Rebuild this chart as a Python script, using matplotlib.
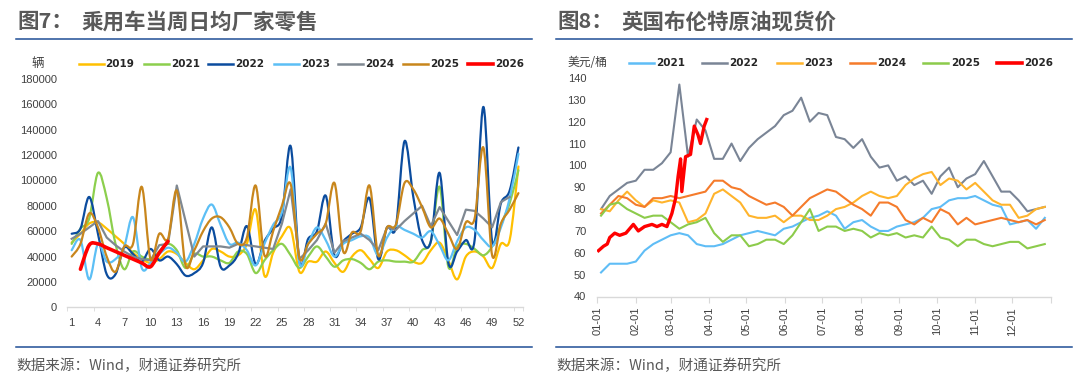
import numpy as np
import matplotlib
matplotlib.use("Agg")
import matplotlib.pyplot as plt
from matplotlib.path import Path
from matplotlib.patches import PathPatch
from matplotlib.lines import Line2D

plt.rcParams["font.family"] = ["Liberation Sans", "DejaVu Sans"]
CJK = ["Noto Sans CJK SC", "DejaVu Sans"]

# ---- left chart: weekly average daily retail sales (vehicles) ----
weeks = list(range(1, 53))
sales_2019 = [51000, 58000, 66000, 67000, 62000, 56000, 50000, 43000, 38000, 35000,
              38000, 44000, 42000, 35000, 30000, 37000, 46000, 44000, 40000, 41000,
              50000, 77000, 25000, 43000, 56000, 62000, 28000, 36000, 36000, 44000,
              35000, 28000, 40000, 45000, 38000, 31000, 44000, 45000, 41000, 36000,
              35000, 45000, 51000, 37000, 22000, 40000, 44000, 40000, 31000, 50000,
              53000, 111000]
sales_2021 = [50000, 62000, 70000, 106000, 86000, 50000, 30000, 44000, 40000, 38000,
              44000, 50000, 45000, 31000, 42000, 40000, 40000, 37000, 35000, 44000,
              42000, 27000, 37000, 45000, 50000, 41000, 31000, 40000, 48000, 40000,
              32000, 37000, 38000, 35000, 30000, 36000, 37000, 36000, 36000, 36000,
              45000, 52000, 95000, 32000, 48000, 50000, 46000, 41000, 48000, 65000,
              82000, 108000]
sales_2022 = [58000, 62000, 87000, 58000, 26000, 26000, 47000, 42000, 36000, 46000,
              37000, 40000, 34000, 25000, 27000, 35000, 63000, 32000, 33000, 42000,
              64000, 34000, 52000, 62000, 72000, 127000, 36000, 54000, 60000, 88000,
              41000, 52000, 58000, 63000, 86000, 38000, 63000, 63000, 131000, 87000,
              53000, 52000, 106000, 35000, 44000, 53000, 53000, 158000, 52000, 82000,
              92000, 126000]
sales_2023 = [45000, 53000, 22000, 50000, 36000, 38000, 48000, 71000, 31000, 35000,
              42000, 47000, 43000, 36000, 50000, 70000, 81000, 65000, 50000, 51000,
              45000, 33000, 50000, 65000, 75000, 110000, 35000, 50000, 63000, 53000,
              40000, 50000, 53000, 56000, 55000, 41000, 55000, 64000, 61000, 58000,
              55000, 60000, 49000, 37000, 52000, 63000, 61000, 53000, 48000, 63000,
              86000, 121000]
sales_2024 = [54000, 58000, 63000, 68000, 55000, 49000, 44000, 40000, 38000, 37000,
              49000, 50000, 96000, 68000, 40000, 48000, 48000, 48000, 47000, 50000,
              49000, 48000, 47000, 46000, 66000, 93000, 38000, 45000, 53000, 66000,
              43000, 52000, 55000, 58000, 53000, 45000, 63000, 61000, 68000, 74000,
              80000, 64000, 79000, 68000, 57000, 77000, 76000, 70000, 63000, 83000,
              87000, None]
sales_2025 = [40000, 50000, 74000, 63000, 40000, 28000, 48000, 50000, 95000, 38000,
              58000, 54000, 92000, 33000, 45000, 60000, 70000, 71000, 63000, 50000,
              55000, 96000, 41000, 60000, 80000, 97000, 39000, 50000, 58000, 66000,
              98000, 44000, 59000, 60000, 96000, 41000, 63000, 65000, 98000, 93000,
              79000, 63000, 70000, 58000, 46000, 67000, 70000, 126000, 41000, 66000,
              77000, 90000]
sales_2026 = [None, 30000, 49000, 50000, 47000, 44000, 41000, 38000, 35000, 32000,
              43000, 52000] + [None] * 40

sales_years = ["2019", "2021", "2022", "2023", "2024", "2025", "2026"]
sales_colors = ["#FFC000", "#8CCF4D", "#0B4C9E", "#5CBFF5", "#7F8891", "#C8861C", "#FF0000"]

# ---- right chart: Brent spot price (USD/bbl), sampled weekly by day of year ----
oil_days = np.arange(3, 361, 7)
oil_2021 = [51, 55, 55, 55, 56, 61, 64, 66, 68, 69, 68, 64, 63, 63, 64, 66, 68, 69, 70, 69,
            68, 71, 72, 74, 76, 77, 79, 77, 71, 74, 75, 72, 70, 70, 72, 73, 74, 76, 80, 81,
            84, 85, 85, 86, 84, 82, 81, 73, 74, 75, 71, 76]
oil_2022 = [80, 86, 89, 92, 93, 98, 98, 101, 106, 137, 104, 121, 116, 103, 103, 110, 102, 108,
            112, 115, 118, 123, 125, 131, 120, 124, 123, 113, 112, 108, 112, 104, 99, 100, 93,
            95, 91, 93, 87, 95, 99, 90, 94, 96, 102, 95, 88, 88, 84, 79, 80, 81]
oil_2023 = [80, 79, 84, 88, 84, 81, 84, 83, 84, 83, 74, 75, 78, 87, 89, 86, 83, 77, 76, 76,
            77, 74, 77, 77, 75, 75, 77, 80, 81, 83, 86, 88, 86, 85, 86, 91, 94, 96, 97, 91,
            94, 93, 89, 92, 88, 84, 82, 82, 76, 77, 80, 81]
oil_2024 = [78, 82, 86, 85, 82, 81, 85, 85, 86, 85, 86, 87, 88, 93, 93, 90, 89, 86, 84, 82,
            83, 81, 77, 81, 85, 87, 89, 88, 85, 82, 80, 77, 83, 83, 81, 75, 73, 76, 74, 80,
            78, 73, 76, 73, 74, 75, 76, 75, 74, 75, 73, 75]
oil_2025 = [77, 82, 83, 80, 78, 76, 77, 77, 74, 71, 73, 74, 76, 69, 65, 68, 68, 63, 64, 66,
            66, 64, 68, 74, 80, 70, 72, 72, 70, 71, 70, 67, 69, 68, 69, 67, 68, 67, 72, 67,
            66, 63, 66, 66, 64, 63, 64, 65, 65, 62, 63, 64]
oil_2026_days = [1, 5, 8, 10, 14, 18, 23, 29, 33, 38, 44, 48, 52, 56, 60, 63, 65, 67, 68,
                 71, 75, 78, 81, 83, 86, 88]
oil_2026 = [61, 63, 64, 67, 69, 68, 69, 73, 70, 72, 73, 72, 73, 72, 78, 85, 95, 103, 88,
            104, 105, 118, 114, 110, 118, 121]

oil_years = ["2021", "2022", "2023", "2024", "2025", "2026"]
oil_colors = ["#5FBDF6", "#7A8596", "#FFB42C", "#F57B2B", "#8CCB4B", "#FF0000"]
month_starts = [0, 31, 59, 90, 120, 151, 181, 212, 243, 273, 304, 334]
month_labels = ["01-01", "02-01", "03-01", "04-01", "05-01", "06-01",
                "07-01", "08-01", "09-01", "10-01", "11-01", "12-01"]

W, H = 1080, 387


def fx(px):
    return px / W


def fy(py):
    return 1 - py / H


def smooth_line(ax, x, y, color, lw, z):
    # Excel-style smoothed line: Catmull-Rom segments as cubic Beziers
    p = np.array([(a, b) for a, b in zip(x, y) if b is not None], float)
    n = len(p)
    verts = [p[0]]
    codes = [Path.MOVETO]
    for i in range(n - 1):
        p0, p1, p2, p3 = p[max(i - 1, 0)], p[i], p[i + 1], p[min(i + 2, n - 1)]
        verts += [p1 + (p2 - p0) / 6, p2 - (p3 - p1) / 6, p2]
        codes += [Path.CURVE4] * 3
    ax.add_patch(PathPatch(Path(verts, codes), fill=False, ec=color, lw=lw,
                           zorder=z, capstyle="round", joinstyle="round"))


fig = plt.figure(figsize=(10.8, 3.87), dpi=100)

# ---------------- left panel ----------------
ax1 = fig.add_axes([fx(67.3), fy(307.3), fx(522.8) - fx(67.3), fy(79) - fy(307.3)])
series = [sales_2019, sales_2021, sales_2022, sales_2023, sales_2024, sales_2025, sales_2026]
for i, (vals, col) in enumerate(zip(series, sales_colors)):
    lw = 2.6 if sales_years[i] == "2026" else 1.6
    if sales_years[i] == "2024":
        xs = [w for w, v in zip(weeks, vals) if v is not None]
        ys = [v for v in vals if v is not None]
        ax1.plot(xs, ys, color=col, lw=lw, zorder=2 + i, solid_joinstyle="round")
    else:
        smooth_line(ax1, weeks, vals, col, lw, 2 + i)
ax1.set_xlim(0.5, 52.5)
ax1.set_ylim(0, 180000)
ax1.set_yticks(range(0, 180001, 20000))
ax1.set_yticklabels([str(v) for v in range(0, 180001, 20000)])
ax1.set_xticks(weeks[::3])
ax1.set_xticklabels([str(w) for w in weeks[::3]])
ax1.set_xticks(list(np.arange(0.5, 52, 3)) + [52.5], minor=True)
ax1.tick_params(axis="x", which="major", length=0, pad=8, labelsize=8, labelcolor="#404040")
ax1.tick_params(axis="x", which="minor", length=3, color="#D9D9D9", direction="out")
ax1.tick_params(axis="y", length=0, pad=7.5, labelsize=8, labelcolor="#404040")

# ---------------- right panel ----------------
ax2 = fig.add_axes([fx(597.3), fy(296.5), fx(1051) - fx(597.3), fy(78) - fy(296.5)])
oil_series = [oil_2021, oil_2022, oil_2023, oil_2024, oil_2025]
for i, (vals, col) in enumerate(zip(oil_series, oil_colors[:5])):
    ax2.plot(oil_days, vals, color=col, lw=1.5, zorder=2 + i, solid_joinstyle="round")
ax2.plot(oil_2026_days, oil_2026, color=oil_colors[5], lw=2.4, zorder=8, solid_joinstyle="round")
ax2.set_xlim(0, 365)
ax2.set_ylim(40, 140)
ax2.set_yticks(range(40, 141, 10))
ax2.set_xticks(month_starts + [365])
ax2.set_xticklabels(month_labels + [""], rotation=90)
ax2.tick_params(axis="x", length=4, color="#D9D9D9", pad=3.5, labelsize=8, labelcolor="#404040")
ax2.tick_params(axis="y", length=0, pad=8, labelsize=8, labelcolor="#404040")

for ax in (ax1, ax2):
    for s in ("left", "right", "top"):
        ax.spines[s].set_visible(False)
    ax.spines["bottom"].set_color("#D9D9D9")
    ax.spines["bottom"].set_linewidth(1.0)
    ax.patch.set_alpha(0)

# ---------------- titles, rules, footers ----------------
navy = "#1F4E96"
for x0, x1 in ((15.5, 532), (555.5, 1072)):
    fig.add_artist(Line2D([fx(x0), fx(x1)], [fy(38.6), fy(38.6)], color=navy, lw=1.1))
    fig.add_artist(Line2D([fx(x0), fx(x1)], [fy(346.8), fy(346.8)], color=navy, lw=1.1))

fig.text(fx(17), fy(22), "图7：", family=CJK, fontsize=15.5, weight="bold", color="#595959", va="center")
fig.text(fx(81.6), fy(22), "乘用车当周日均厂家零售", family=CJK, fontsize=15.5, weight="bold",
         color="#595959", va="center")
fig.text(fx(557), fy(22), "图8：", family=CJK, fontsize=15.5, weight="bold", color="#595959", va="center")
fig.text(fx(621.6), fy(22), "英国布伦特原油现货价", family=CJK, fontsize=15.5, weight="bold",
         color="#595959", va="center")

for x0 in (16.5, 556.5):
    fig.text(fx(x0), fy(365.8), "数据来源：Wind，财通证券研究所", family=CJK, fontsize=10.5,
             color="#595959", va="center")

fig.text(fx(38), fy(64), "辆", family=CJK, fontsize=9, color="#404040", va="center", ha="center")
fig.text(fx(567.5), fy(63), "美元/桶", family=CJK, fontsize=8.5, color="#404040", va="center")

# legends
left_leg_x = [78.5, 144, 208.3, 273.8, 338, 403, 468.3]
for x0, lab, col in zip(left_leg_x, sales_years, sales_colors):
    lw = 2.6 if lab == "2026" else 1.8
    fig.add_artist(Line2D([fx(x0), fx(x0 + 25)], [fy(64), fy(64)], color=col, lw=lw))
    fig.text(fx(x0 + 27), fy(64), lab, fontsize=7.5, weight="bold", family="DejaVu Sans",
             color="#262626", va="center")

right_leg_x = [628.8, 701.8, 776.6, 849.9, 923.3, 997]
for x0, lab, col in zip(right_leg_x, oil_years, oil_colors):
    lw = 2.6 if lab == "2026" else 1.8
    fig.add_artist(Line2D([fx(x0), fx(x0 + 25)], [fy(63), fy(63)], color=col, lw=lw))
    fig.text(fx(x0 + 27.5), fy(63), lab, fontsize=7.5, weight="bold", family="DejaVu Sans",
             color="#262626", va="center")

fig.savefig("out.png", dpi=100)
